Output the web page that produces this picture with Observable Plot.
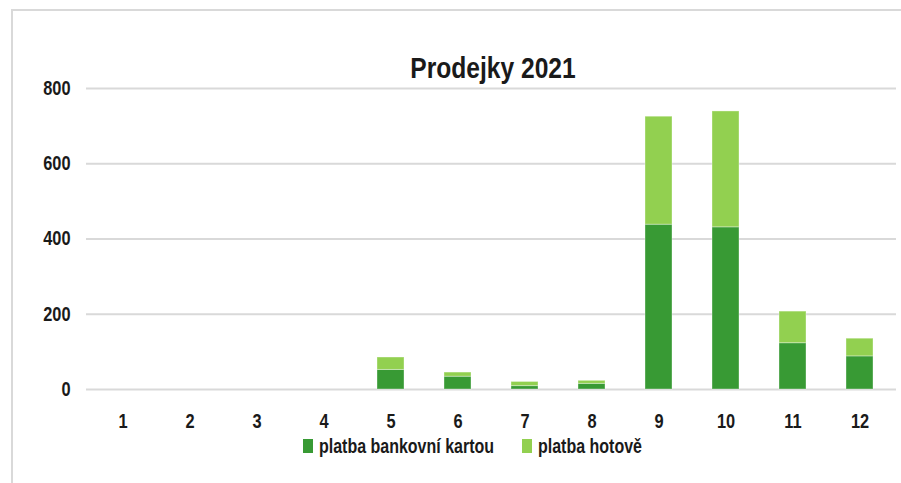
<!DOCTYPE html>
<html>
<head>
<meta charset="utf-8">
<script src="https://cdn.jsdelivr.net/npm/d3@7"></script>
<script src="https://cdn.jsdelivr.net/npm/@observablehq/plot@0.6"></script>
<style>
  html, body { margin: 0; padding: 0; background: #fff; overflow: hidden; }
  #wrap { position: relative; width: 901px; height: 483px; font-family: "Liberation Sans", Arial, sans-serif; font-weight: bold; color: #1a1a1a; }
  #wrap svg { position: absolute; left: 0; top: 0; }
  .frameL { position: absolute; left: 11px; top: 9px; width: 2px; height: 474px; background: #d9d9d9; }
  .frameT { position: absolute; left: 11px; top: 9px; width: 890px; height: 2px; background: #d9d9d9; }
  #title { position: absolute; left: 85px; width: 816px; top: 53px; text-align: center; font-size: 30px; line-height: 30px; transform: scaleX(0.82); transform-origin: 408px 0; white-space: nowrap; }
  #legend { position: absolute; left: 0; top: 0; width: 901px; height: 483px; pointer-events: none; }
  #legend .sw { position: absolute; top: 439px; width: 10px; height: 14px; }
  #legend .tx { position: absolute; top: 436px; font-size: 19.5px; line-height: 20px; white-space: nowrap; transform: scaleX(0.82); transform-origin: 0 0; }
</style>
</head>
<body>
<div id="wrap">
  <div class="frameL"></div>
  <div class="frameT"></div>
  <div id="chart"></div>
  <div id="title"></div>
  <div id="legend"></div>
</div>
<script>
const titleText = "Prodejky 2021";
const months = [1, 2, 3, 4, 5, 6, 7, 8, 9, 10, 11, 12];
const seriesNames = ["platba bankovní kartou", "platba hotově"];
const seriesColors = ["#389a34", "#92d050"];
const cardValues = [0, 0, 0, 0, 52, 34, 9, 15, 438, 431, 123, 88];
const cashValues = [0, 0, 0, 0, 33, 11, 11, 8, 287, 308, 84, 47];
const yTicks = [0, 200, 400, 600, 800];

const data = [];
months.forEach((m, i) => {
  data.push({month: m, series: seriesNames[0], value: cardValues[i]});
  data.push({month: m, series: seriesNames[1], value: cashValues[i]});
});

const plot = Plot.plot({
  width: 901,
  height: 483,
  marginLeft: 86,
  marginRight: 5,
  marginTop: 88,
  marginBottom: 94,
  style: {fontFamily: '"Liberation Sans", Arial, sans-serif', fontWeight: "bold", fontSize: "20px", color: "#1a1a1a", background: "transparent"},
  x: {domain: months, paddingInner: 0.6, paddingOuter: 0.3, label: null},
  y: {domain: [0, 800], label: null},
  color: {domain: seriesNames, range: seriesColors},
  marks: [
    Plot.ruleY(yTicks, {stroke: "#d9d9d9", strokeWidth: 2}),
    Plot.barY(data, Plot.stackY({x: "month", y: "value", fill: "series", order: null, stroke: "#ffffff", strokeOpacity: 0.35, strokeWidth: 1})),
    Plot.axisX({tickSize: 0, tickPadding: 24, fontSize: 20, fontWeight: "bold", fill: "#1a1a1a"}),
    Plot.axisY({ticks: yTicks, tickSize: 0, tickPadding: 16, fontSize: 20, fontWeight: "bold", fill: "#1a1a1a"})
  ]
});
document.getElementById("chart").appendChild(plot);

// condense axis label glyphs horizontally (narrow typeface look)
plot.querySelectorAll('g[aria-label$="tick label"] text').forEach(el => {
  const t = el.getAttribute("transform") || "";
  if (el.hasAttribute("x")) {
    const x = +el.getAttribute("x");
    el.setAttribute("transform", `${t} translate(${x},0) scale(0.82,1) translate(${-x},0)`);
  } else {
    el.setAttribute("transform", `${t} scale(0.82,1)`);
  }
});

document.getElementById("title").textContent = titleText;

const legend = document.getElementById("legend");
let lx = 303;
seriesNames.forEach((name, i) => {
  const sw = document.createElement("div");
  sw.className = "sw";
  sw.style.left = lx + "px";
  sw.style.background = seriesColors[i];
  legend.appendChild(sw);
  const tx = document.createElement("div");
  tx.className = "tx";
  tx.style.left = (lx + 16) + "px";
  tx.textContent = name;
  legend.appendChild(tx);
  const w = tx.getBoundingClientRect().width;
  lx = lx + 16 + w + 28;
});
</script>
</body>
</html>
